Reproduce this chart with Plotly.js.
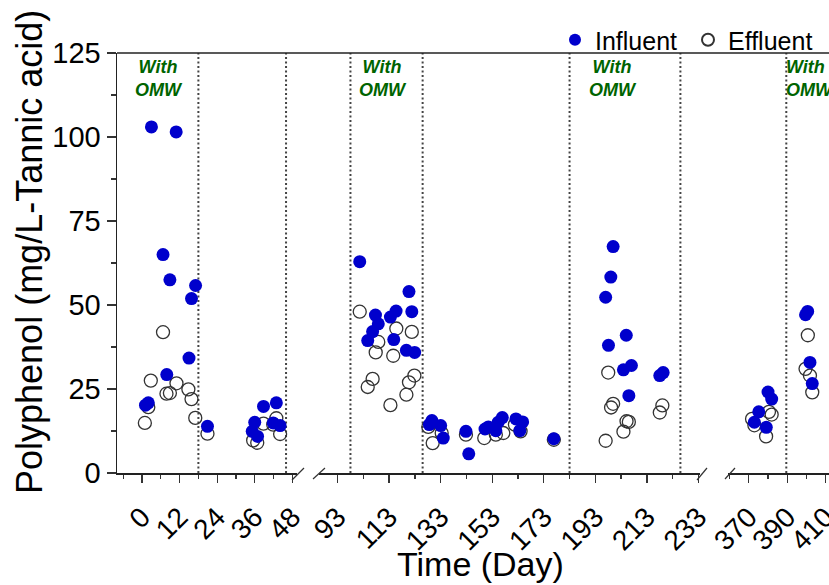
<!DOCTYPE html>
<html>
<head>
<meta charset="utf-8">
<script src="https://cdn.plot.ly/plotly-3.0.1.min.js"></script>
<style>html,body{margin:0;padding:0;background:#fff;}#chart{width:829px;height:585px;}</style>
</head>
<body>
<div id="chart"></div>
<script>
// ---- Data ----
var influentDay = [1.1, 2.0, 3.0, 6.7, 7.9, 8.9, 10.9, 15.0, 15.8, 17.1, 20.9, 35.2, 36.0, 36.9, 38.8, 41.9, 42.9, 44.1,
  101.6, 104.7, 106.6, 107.7, 108.8, 113.5, 114.8, 115.7, 119.7, 120.7, 121.8, 122.9,
  128.6, 129.6, 133.0, 134.0, 142.8, 143.9, 150.2, 151.5, 154.4, 155.3, 156.9, 162.2, 163.7, 164.8, 176.9,
  197.0, 198.1, 199.0, 199.9, 203.9, 205.0, 206.0, 207.0, 218.0, 219.3,
  372.9, 375.2, 379.1, 380.0, 381.9, 399.5, 400.6, 401.8, 403.0];
var influent = [20.2, 20.9, 103.0, 65.0, 29.3, 57.5, 101.5, 34.2, 51.9, 55.8, 13.9, 12.4, 15.1, 10.9, 19.8, 14.9, 20.9, 14.1,
  62.9, 39.4, 42.1, 47.0, 44.4, 46.4, 39.7, 48.2, 36.5, 54.0, 48.0, 35.9,
  14.4, 15.6, 14.1, 10.4, 12.4, 5.7, 13.1, 13.7, 12.6, 15.1, 16.5, 16.1, 12.6, 15.2, 10.2,
  52.3, 38.0, 58.3, 67.4, 30.7, 41.0, 23.0, 32.0, 29.0, 29.9,
  15.1, 18.2, 13.6, 24.1, 22.0, 47.1, 48.1, 32.9, 26.6];
var effluentDay = [0.9, 2.0, 2.8, 6.7, 7.8, 8.9, 11.0, 14.8, 15.8, 17.0, 20.9, 35.5, 36.8, 38.8, 41.9, 42.9, 44.1,
  101.6, 104.7, 106.6, 107.8, 108.8, 113.5, 114.6, 115.8, 119.7, 120.7, 121.8, 122.8,
  128.2, 129.9, 133.4, 142.8, 149.9, 154.4, 157.3, 161.8, 164.0, 176.9,
  197.0, 198.0, 199.1, 199.9, 203.9, 205.1, 206.0, 218.0, 219.0,
  371.7, 372.9, 379.0, 380.5, 381.9, 399.5, 400.7, 401.8, 403.0];
var effluent = [14.9, 19.6, 27.5, 41.9, 23.6, 23.8, 26.7, 24.9, 22.0, 16.4, 11.7, 9.7, 9.0, 14.7, 14.4, 16.3, 11.6,
  48.0, 25.6, 28.0, 35.9, 39.0, 20.2, 34.9, 43.0, 23.3, 27.0, 42.0, 29.0,
  13.7, 8.9, 11.9, 11.4, 10.4, 11.4, 11.9, 14.4, 12.4, 9.9,
  9.6, 29.9, 19.5, 20.6, 12.3, 15.4, 15.2, 18.0, 20.1,
  16.1, 14.2, 10.9, 18.2, 17.4, 31.0, 41.0, 29.0, 24.0];
var phaseBoundaries = [18, 46, 98, 126, 183, 226, 389.5];
var omwLabel = "With<br>OMW";
var seg1Ticks = [0, 12, 24, 36, 48];
var seg2Ticks = [93, 113, 133, 153, 173, 193, 213, 233];
var seg3Ticks = [370, 390, 410];

// ---- Layout helpers ----
var W = 829, H = 585, L = 117, T = 53, B = 112, R = 0;
var PW = W - L - R, PH = H - T - B;
function px(x) { return (x - L) / PW; }
function py(y) { return (H - B - y) / PH; }

var segs = [
  {ax: 'x',  range: [-8, 49.5],    dom: [px(117), px(297)], ticks: seg1Ticks, minor: 6,  tick0: 0},
  {ax: 'x2', range: [85.8, 233.6], dom: [px(319), px(700)], ticks: seg2Ticks, minor: 10, tick0: 93},
  {ax: 'x3', range: [359.2, 411.7], dom: [px(728), 1],      ticks: seg3Ticks, minor: 10, tick0: 370}
];
function segOf(d) {
  for (var i = 0; i < segs.length; i++) if (d >= segs[i].range[0] && d <= segs[i].range[1]) return i;
  return -1;
}

var blue = '#0000CC';
var traces = [];
// effluent first (drawn beneath), influent on top
[{name: 'Effluent', days: effluentDay, vals: effluent, rank: 2,
  marker: {symbol: 'circle-open', size: 13, color: '#333333', line: {width: 1.3, color: '#333333'}}},
 {name: 'Influent', days: influentDay, vals: influent, rank: 1,
  marker: {symbol: 'circle', size: 13, color: blue, line: {width: 0}}}
].forEach(function(s) {
  segs.forEach(function(sg, i) {
    var xs = [], ys = [];
    s.days.forEach(function(d, k) { if (segOf(d) === i) { xs.push(d); ys.push(s.vals[k]); } });
    traces.push({
      type: 'scatter', mode: 'markers', x: xs, y: ys, xaxis: sg.ax, yaxis: 'y',
      name: s.name, legendgroup: s.name, showlegend: i === 0, legendrank: s.rank,
      marker: s.marker, cliponaxis: false
    });
  });
});

var font = 'Arial, "Liberation Sans", sans-serif';
var layout = {
  width: W, height: H,
  margin: {l: L, r: R, t: T, b: B, pad: 0, autoexpand: false},
  paper_bgcolor: '#fff', plot_bgcolor: '#fff',
  font: {family: font, color: '#000'},
  showlegend: true,
  legend: {orientation: 'h', x: px(555), xanchor: 'left', y: py(40), yanchor: 'middle',
    font: {size: 25, family: font, color: '#000'}, bgcolor: 'rgba(0,0,0,0)',
    itemsizing: 'constant', entrywidth: 88, entrywidthmode: 'pixels'},
  yaxis: {range: [0, 125], tickvals: [0, 25, 50, 75, 100, 125], ticks: 'outside', ticklen: 9, tickwidth: 1.3,
    tickcolor: '#333', showline: true, linecolor: '#222', linewidth: 1.5, showgrid: false, zeroline: false,
    tickfont: {size: 29, family: font, color: '#000'}, automargin: false, anchor: 'x',
    minor: {dtick: 12.5, tick0: 0, ticklen: 5, tickwidth: 1.3, tickcolor: '#333', showgrid: false, ticks: 'outside'}},
  shapes: [],
  annotations: []
};
segs.forEach(function(sg, i) {
  var key = i === 0 ? 'xaxis' : 'xaxis' + (i + 1);
  layout[key] = {domain: sg.dom, range: sg.range, anchor: 'y', tickvals: sg.ticks, ticktext: sg.ticks.map(String),
    tickangle: -45, ticks: 'outside', ticklen: 8, tickwidth: 1.3, tickcolor: '#333', ticklabelstandoff: 7,
    showline: true, linecolor: '#222', linewidth: 1.5, showgrid: false, zeroline: false,
    tickfont: {size: 28, family: font, color: '#000'}, automargin: false, ticklabeloverflow: 'allow',
    minor: {dtick: sg.minor, tick0: sg.tick0, ticklen: 4, tickwidth: 1.3, tickcolor: '#333', showgrid: false, ticks: 'outside'}};
});

// phase boundary dotted lines
phaseBoundaries.forEach(function(d) {
  var s = segOf(d);
  layout.shapes.push({type: 'line', xref: segs[s].ax, yref: 'y', x0: d, x1: d, y0: 0, y1: 125,
    line: {color: '#444', width: 2, dash: '2px,2.5px'}, layer: 'below'});
});
// top frame line
layout.shapes.push({type: 'line', xref: 'paper', yref: 'paper', x0: 0, x1: 1, y0: 1, y1: 1,
  line: {color: '#222', width: 1.5}});
// axis break slashes
[[292, 480, 304, 468], [313, 479, 325, 468], [697, 480, 707, 468], [725, 479, 735, 468]].forEach(function(b) {
  layout.shapes.push({type: 'line', xref: 'paper', yref: 'paper', x0: px(b[0]), y0: py(b[1]), x1: px(b[2]), y1: py(b[3]),
    line: {color: '#333', width: 1.2}});
});

// "With OMW" labels
[159, 383, 613].forEach(function(x) {
  layout.annotations.push({xref: 'paper', yref: 'paper', x: px(x), y: py(78), xanchor: 'center', yanchor: 'middle',
    text: '<b><i>' + omwLabel + '</i></b>', showarrow: false,
    font: {size: 18, family: font, color: '#006400'}});
});
layout.annotations.push({xref: 'paper', yref: 'paper', x: px(784), y: py(78), xanchor: 'left', yanchor: 'middle',
  text: '<b><i>' + omwLabel + '</i></b>', showarrow: false, align: 'left',
  font: {size: 18, family: font, color: '#006400'}});
// axis titles
layout.annotations.push({xref: 'paper', yref: 'paper', x: px(29), y: py(252), xanchor: 'center', yanchor: 'middle',
  text: 'Polyphenol (mg/L-Tannic acid)', textangle: -90, showarrow: false, font: {size: 36, family: font, color: '#000'}});
layout.annotations.push({xref: 'paper', yref: 'paper', x: px(480), y: py(564), xanchor: 'center', yanchor: 'middle',
  text: 'Time (Day)', showarrow: false, font: {size: 34, family: font, color: '#000'}});

Plotly.newPlot('chart', traces, layout, {displayModeBar: false, staticPlot: true});
</script>
</body>
</html>
